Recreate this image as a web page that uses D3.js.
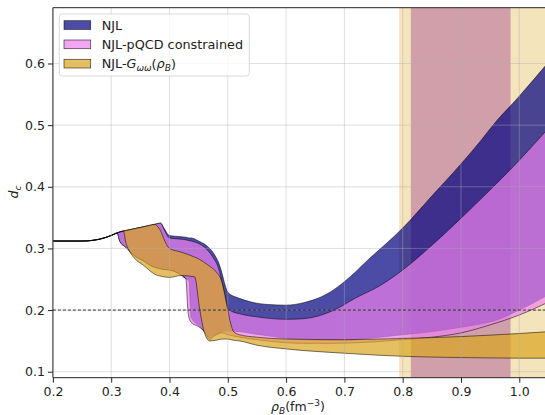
<!DOCTYPE html>
<html>
<head>
<meta charset="utf-8">
<script src="https://cdn.jsdelivr.net/npm/d3@7"></script>
<style>
  body { margin: 0; background: #fff; }
  svg { display: block; font-family: "DejaVu Sans", sans-serif; }
</style>
</head>
<body>
<div id="wrapper"></div>
<script>
// NJL band
const njlX    = [0.20, 0.25, 0.28, 0.30, 0.31, 0.315, 0.325, 0.34, 0.355, 0.37, 0.385, 0.39, 0.40, 0.42, 0.429, 0.433, 0.437, 0.45, 0.46, 0.469, 0.475, 0.485, 0.49, 0.495, 0.50, 0.52, 0.54, 0.57, 0.60, 0.63, 0.67, 0.70, 0.74, 0.80, 0.85, 0.90, 0.935, 0.955, 1.00, 1.05];
const njlHigh = [0.312, 0.312, 0.315, 0.321, 0.325, 0.327, 0.329, 0.332, 0.335, 0.338, 0.341, 0.334, 0.321, 0.319, 0.318, 0.317, 0.317, 0.312, 0.307, 0.300, 0.293, 0.275, 0.260, 0.242, 0.229, 0.219, 0.213, 0.209, 0.208, 0.212, 0.226, 0.246, 0.281, 0.333, 0.385, 0.437, 0.476, 0.500, 0.547, 0.602];
const njlLow  = [0.312, 0.312, 0.315, 0.321, 0.325, 0.311, 0.302, 0.288, 0.280, 0.271, 0.267, 0.266, 0.265, 0.257, 0.250, 0.248, 0.188, 0.175, 0.165, 0.155, 0.158, 0.163, 0.165, 0.166, 0.166, 0.165, 0.162, 0.158, 0.154, 0.152, 0.151, 0.151, 0.154, 0.160, 0.165, 0.172, 0.178, 0.182, 0.200, 0.225];

// NJL-pQCD constrained band
const pqcdX    = [0.20, 0.25, 0.28, 0.30, 0.31, 0.315, 0.325, 0.34, 0.355, 0.37, 0.385, 0.39, 0.40, 0.42, 0.428, 0.432, 0.437, 0.45, 0.46, 0.469, 0.475, 0.485, 0.49, 0.495, 0.50, 0.505, 0.52, 0.55, 0.60, 0.63, 0.68, 0.72, 0.76, 0.80, 0.85, 0.90, 0.95, 1.00, 1.05];
const pqcdHigh = [0.312, 0.312, 0.315, 0.321, 0.325, 0.327, 0.329, 0.332, 0.335, 0.338, 0.341, 0.332, 0.317, 0.315, 0.314, 0.313, 0.312, 0.308, 0.302, 0.293, 0.285, 0.265, 0.245, 0.222, 0.205, 0.199, 0.194, 0.189, 0.185, 0.186, 0.199, 0.220, 0.239, 0.265, 0.305, 0.349, 0.395, 0.443, 0.495];
const pqcdLow  = [0.312, 0.312, 0.315, 0.321, 0.325, 0.311, 0.302, 0.288, 0.280, 0.271, 0.267, 0.266, 0.265, 0.257, 0.251, 0.195, 0.180, 0.173, 0.165, 0.152, 0.157, 0.162, 0.163, 0.162, 0.160, 0.159, 0.156, 0.152, 0.147, 0.146, 0.146, 0.147, 0.149, 0.152, 0.156, 0.163, 0.176, 0.192, 0.213];

// NJL-G_ww(rho_B) band
const gwwX    = [0.20, 0.25, 0.28, 0.30, 0.31, 0.321, 0.325, 0.33, 0.34, 0.355, 0.375, 0.38, 0.385, 0.39, 0.40, 0.42, 0.443, 0.452, 0.46, 0.469, 0.48, 0.49, 0.495, 0.50, 0.505, 0.51, 0.52, 0.55, 0.60, 0.70, 0.80, 0.90, 1.00, 1.05];
const gwwHigh = [0.312, 0.312, 0.315, 0.321, 0.325, 0.328, 0.329, 0.330, 0.332, 0.335, 0.339, 0.335, 0.328, 0.316, 0.300, 0.294, 0.286, 0.282, 0.277, 0.271, 0.262, 0.245, 0.225, 0.200, 0.178, 0.165, 0.160, 0.156, 0.153, 0.152, 0.154, 0.157, 0.162, 0.165];
const gwwLow  = [0.312, 0.312, 0.315, 0.321, 0.325, 0.328, 0.310, 0.298, 0.284, 0.273, 0.258, 0.256, 0.255, 0.254, 0.253, 0.256, 0.254, 0.200, 0.163, 0.150, 0.151, 0.153, 0.153, 0.153, 0.152, 0.151, 0.150, 0.143, 0.137, 0.130, 0.125, 0.123, 0.122, 0.122];

// shaded density windows
const bandStart = [0.794, 0.814];
const bandEnd   = [1.10, 0.985];
const bandColor = ["goldenrod", "purple"];

const refLine = 0.2;
const xTicks = [0.2, 0.3, 0.4, 0.5, 0.6, 0.7, 0.8, 0.9, 1.0];
const yTicks = [0.1, 0.2, 0.3, 0.4, 0.5, 0.6];
const seriesColor = ["navy", "violet", "goldenrod"];

function drawChart() {
    const dim = {width: 545, height: 415, left: 52.9, right: 545, top: 7.7, bottom: 377.7};

    const svg = d3.select("#wrapper").append("svg")
        .attr("width", dim.width)
        .attr("height", dim.height);
    svg.append("rect").attr("width", dim.width).attr("height", dim.height).attr("fill", "#fff");

    const xScaler = d3.scaleLinear().domain([0.2, 1.0441]).range([dim.left, dim.right]);
    const yScaler = d3.scaleLinear().domain([0.0903, 0.6905]).range([dim.bottom, dim.top]);

    svg.append("clipPath").attr("id", "plotclip")
        .append("rect")
        .attr("x", dim.left).attr("y", dim.top)
        .attr("width", dim.right - dim.left).attr("height", dim.bottom - dim.top);

    const plot = svg.append("g").attr("clip-path", "url(#plotclip)");

    // vertical bands
    bandStart.forEach((s, i) => {
        plot.append("rect")
            .attr("x", xScaler(s))
            .attr("width", xScaler(bandEnd[i]) - xScaler(s))
            .attr("y", dim.top)
            .attr("height", dim.bottom - dim.top)
            .attr("fill", bandColor[i])
            .attr("fill-opacity", 0.3);
    });

    const area = d3.area()
        .x(d => xScaler(d[0]))
        .y0(d => yScaler(d[1]))
        .y1(d => yScaler(d[2]))
        .curve(d3.curveMonotoneX);

    const bands = [[njlX, njlLow, njlHigh], [pqcdX, pqcdLow, pqcdHigh], [gwwX, gwwLow, gwwHigh]];
    bands.forEach((b, i) => {
        const pts = b[0].map((x, j) => [x, b[1][j], b[2][j]]);
        plot.append("path")
            .attr("d", area(pts))
            .attr("fill", seriesColor[i])
            .attr("fill-opacity", 0.7)
            .attr("stroke", "#000")
            .attr("stroke-opacity", 0.75)
            .attr("stroke-width", 0.7);
    });

    // grid on top
    xTicks.forEach(t => {
        plot.append("line")
            .attr("x1", xScaler(t)).attr("x2", xScaler(t))
            .attr("y1", dim.top).attr("y2", dim.bottom)
            .attr("stroke", "#b0b0b0").attr("stroke-opacity", 0.5).attr("stroke-width", 0.8);
    });
    yTicks.forEach(t => {
        plot.append("line")
            .attr("x1", dim.left).attr("x2", dim.right)
            .attr("y1", yScaler(t)).attr("y2", yScaler(t))
            .attr("stroke", "#b0b0b0").attr("stroke-opacity", 0.5).attr("stroke-width", 0.8);
    });

    // dashed reference line
    plot.append("line")
        .attr("x1", dim.left).attr("x2", dim.right)
        .attr("y1", yScaler(refLine)).attr("y2", yScaler(refLine))
        .attr("stroke", "#222").attr("stroke-width", 0.9)
        .attr("stroke-dasharray", "3,2");

    // axes
    const xAxis = d3.axisBottom(xScaler).tickValues(xTicks).tickFormat(d3.format(".1f")).tickSize(5).tickPadding(4);
    const gx = svg.append("g").attr("transform", `translate(0,${dim.bottom})`).call(xAxis);
    const yAxis = d3.axisLeft(yScaler).tickValues(yTicks).tickFormat(d3.format(".1f")).tickSize(5).tickPadding(3);
    const gy = svg.append("g").attr("transform", `translate(${dim.left},0)`).call(yAxis);
    [gx, gy].forEach(g => {
        g.select(".domain").remove();
        g.selectAll("text").attr("font-size", 12.5).attr("font-family", "DejaVu Sans").attr("fill", "#222");
        g.selectAll("line").attr("stroke", "#222");
    });

    // spines
    svg.append("line").attr("x1", dim.left).attr("x2", dim.left).attr("y1", dim.top).attr("y2", dim.bottom)
        .attr("stroke", "#222").attr("stroke-width", 1);
    svg.append("line").attr("x1", dim.left).attr("x2", dim.right).attr("y1", dim.bottom).attr("y2", dim.bottom)
        .attr("stroke", "#222").attr("stroke-width", 1);
    svg.append("line").attr("x1", dim.left).attr("x2", dim.right).attr("y1", dim.top).attr("y2", dim.top)
        .attr("stroke", "#222").attr("stroke-width", 1);

    // axis labels
    const xl = svg.append("text")
        .attr("x", 298).attr("y", 411)
        .attr("text-anchor", "middle")
        .attr("font-size", 12.5).attr("fill", "#222");
    xl.append("tspan").attr("font-style", "italic").text("ρ");
    xl.append("tspan").attr("font-style", "italic").attr("font-size", 9).attr("dy", 3).text("B");
    xl.append("tspan").attr("dy", -3).text("(fm");
    xl.append("tspan").attr("font-size", 9).attr("dy", -5).text("−3");
    xl.append("tspan").attr("dy", 5).text(")");

    const yl = svg.append("text")
        .attr("transform", "translate(18,192) rotate(-90)")
        .attr("text-anchor", "middle")
        .attr("font-size", 12.5).attr("fill", "#222");
    yl.append("tspan").attr("font-style", "italic").text("d");
    yl.append("tspan").attr("font-style", "italic").attr("font-size", 9).attr("dy", 3).text("c");

    // legend
    const fs = 12.8;
    const lg = svg.append("g");
    lg.append("rect")
        .attr("x", 59.3).attr("y", 14).attr("width", 190).attr("height", 62)
        .attr("rx", 3)
        .attr("fill", "#fff").attr("fill-opacity", 0.8)
        .attr("stroke", "#d0d0d0").attr("stroke-width", 0.8);
    seriesColor.forEach((c, i) => {
        const yy = 20.7 + i * 19.3;
        lg.append("rect")
            .attr("x", 64).attr("y", yy).attr("width", 26.7).attr("height", 8.7)
            .attr("fill", c).attr("fill-opacity", 0.7)
            .attr("stroke", "#000").attr("stroke-opacity", 0.75).attr("stroke-width", 0.7);
    });
    lg.append("text").attr("x", 101.7).attr("y", 29.6).attr("font-size", fs).attr("fill", "#222").text("NJL");
    lg.append("text").attr("x", 101.7).attr("y", 48.9).attr("font-size", fs).attr("fill", "#222").text("NJL-pQCD constrained");
    const t3 = lg.append("text").attr("x", 101.7).attr("y", 68.2).attr("font-size", fs).attr("fill", "#222");
    t3.append("tspan").text("NJL-");
    t3.append("tspan").attr("font-style", "italic").text("G");
    t3.append("tspan").attr("font-style", "italic").attr("font-size", 9).attr("dy", 3).text("ωω");
    t3.append("tspan").attr("dy", -3).text("(");
    t3.append("tspan").attr("font-style", "italic").text("ρ");
    t3.append("tspan").attr("font-style", "italic").attr("font-size", 9).attr("dy", 3).text("B");
    t3.append("tspan").attr("dy", -3).text(")");
}

drawChart();
</script>
</body>
</html>
